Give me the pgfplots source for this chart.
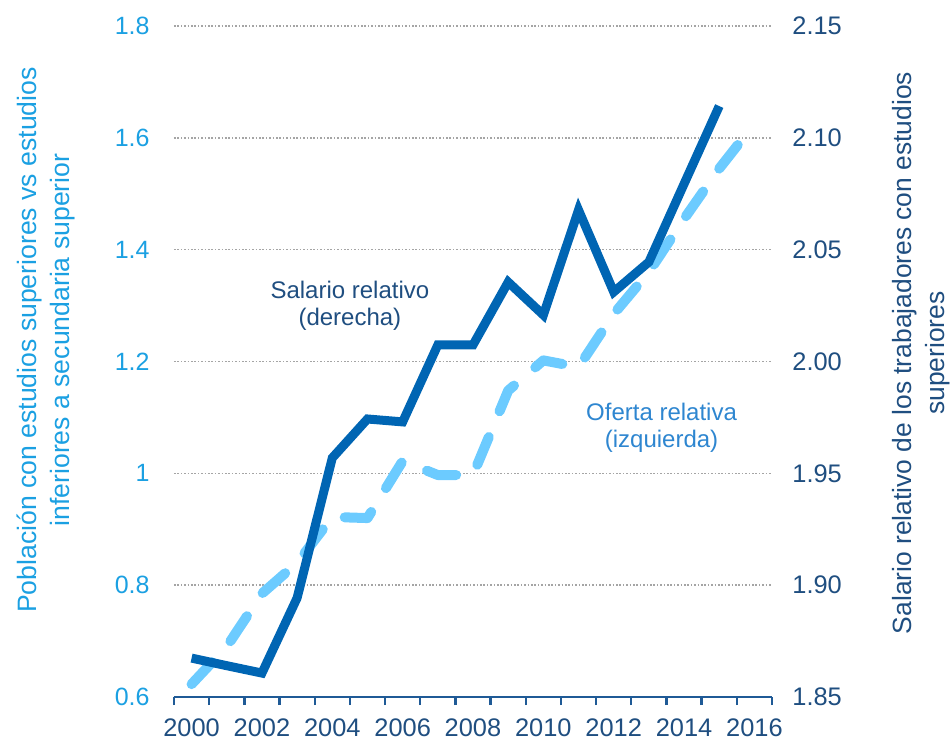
\documentclass[border=0pt]{standalone}
\usepackage{pgfplots}
\pgfplotsset{compat=1.18}
\usepackage{fontspec}
\setmainfont{Liberation Sans}
\setsansfont{Liberation Sans}
\definecolor{darkline}{RGB}{0,101,179}
\definecolor{lightline}{RGB}{108,203,255}
\definecolor{lefttxt}{RGB}{27,160,226}
\definecolor{navy}{RGB}{31,78,128}
\definecolor{axisblue}{RGB}{31,90,150}
\definecolor{ofertatxt}{RGB}{46,134,208}
\definecolor{gridgray}{RGB}{165,165,165}

\pgfplotstableread{
year oferta
2000 0.623
2001 0.690
2002 0.785
2003 0.840
2004 0.922
2005 0.920
2006 1.022
2007 0.997
2008 0.997
2009 1.148
2010 1.202
2011 1.190
2012 1.285
2013 1.360
2014 1.455
2015 1.545
2016 1.625
}\oferta

\pgfplotstableread{
year salario
2000 1.8674
2001 1.8640
2002 1.8607
2003 1.8943
2004 1.9569
2005 1.9743
2006 1.9730
2007 2.0074
2008 2.0074
2009 2.0355
2010 2.0208
2011 2.0677
2012 2.0311
2013 2.0445
2014 2.0794
2015 2.1142
}\salario

\begin{document}
\begin{tikzpicture}
\path[use as bounding box] (-87pt,-21.5pt) rectangle (388.5pt,348.5pt);
\begin{axis}[
  at={(0,0)}, anchor=south west,
  scale only axis, width=299pt, height=335.5pt,
  xmin=1999.5, xmax=2016.5,
  ymin=0.6, ymax=1.8,
  axis x line*=bottom,
  axis y line*=left,
  y axis line style={draw=none},
  x axis line style={axisblue, line width=1.2pt},
  xtick={1999.5,2000.5,...,2016.5},
  xticklabels={},
  major x tick style={axisblue, line width=1.2pt},
  xtick align=outside,
  major tick length=4pt,
  extra x ticks={2000,2002,...,2016},
  extra x tick style={major tick length=0pt, grid=none},
  /pgf/number format/1000 sep={},
  /pgf/number format/assume math mode=true,
  xticklabel style={font=\fontsize{12.7}{15}\selectfont, text=navy, inner sep=0pt, anchor=north, yshift=-10.5pt},
  ytick={0.6,0.8,...,1.8},
  major y tick style={draw=none},
  yticklabel style={font=\fontsize{12.5}{15}\selectfont, text=lefttxt, inner sep=0pt, anchor=east, xshift=-12pt},
  ymajorgrids,
  major grid style={gridgray, line width=0.8pt, dash pattern=on 0.8pt off 0.9pt},
  clip=false,
]
\addplot[lightline, line width=5pt, line cap=round, line join=round, dash pattern=on 15pt off 14pt] table[x=year, y=oferta] {\oferta};
\node[align=center, text=ofertatxt, font=\fontsize{12}{13.5}\selectfont] at (axis cs:2013.36,1.081) {Oferta relativa\\(izquierda)};
\node[align=center, text=navy, font=\fontsize{12}{13.5}\selectfont] at (axis cs:2004.5,1.30) {Salario relativo\\(derecha)};
\end{axis}
\begin{axis}[
  at={(0,0)}, anchor=south west,
  scale only axis, width=299pt, height=335.5pt,
  xmin=1999.5, xmax=2016.5,
  ymin=1.85, ymax=2.15,
  hide x axis,
  axis y line*=right,
  y axis line style={draw=none},
  ytick={1.85,1.90,...,2.15},
  major y tick style={draw=none},
  /pgf/number format/assume math mode=true,
  /pgf/number format/.cd, fixed, fixed zerofill, precision=2, /pgfplots/.cd,
  yticklabel style={font=\fontsize{12.7}{15}\selectfont, text=navy, inner sep=0pt, anchor=west, xshift=10pt},
  clip=false,
]
\addplot[darkline, line width=4.5pt, line join=miter] table[x=year, y=salario] {\salario};
\end{axis}
\node[rotate=90, align=center, text=lefttxt, font=\fontsize{13.3}{16.5}\selectfont] at (-64pt,178.5pt) {Población con estudios superiores vs estudios\\inferiores a secundaria superior};
\node[rotate=90, align=center, text=navy, font=\fontsize{13.2}{16.5}\selectfont] at (373.5pt,172pt) {Salario relativo de los trabajadores con estudios\\superiores};
\end{tikzpicture}
\end{document}
